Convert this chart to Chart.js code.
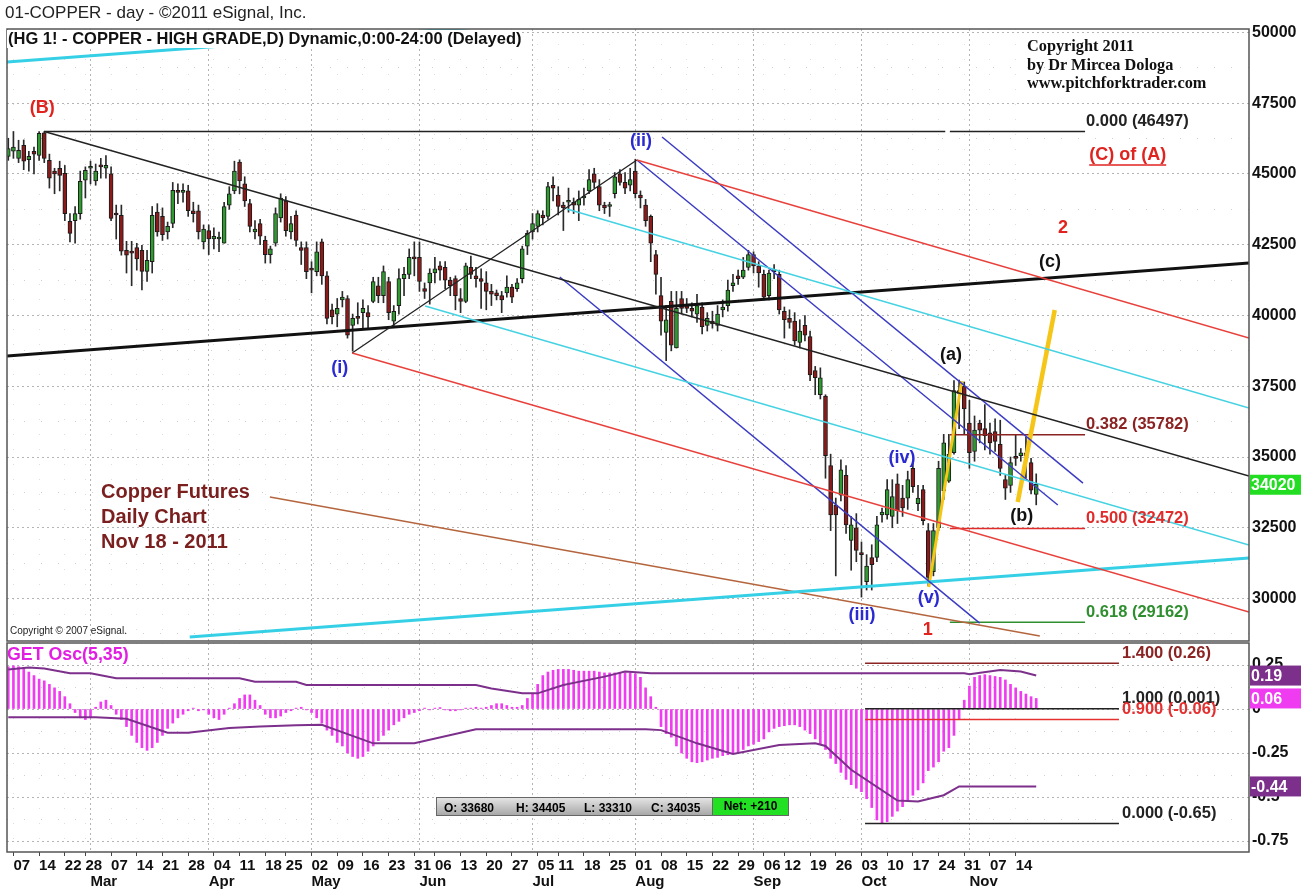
<!DOCTYPE html>
<html>
<head>
<meta charset="utf-8">
<script src="https://cdn.jsdelivr.net/npm/chart.js@4/dist/chart.umd.min.js"></script>
<style>
  body { margin: 0; background: #fff; }
  #page { position: relative; width: 1313px; height: 893px; overflow: hidden; font-family: 'Liberation Sans', Arial, sans-serif; }
  canvas { position: absolute; left: 0; }
  .txt { position: absolute; white-space: nowrap; line-height: 1; }
  #info { position: absolute; left: 436px; top: 797px; width: 352px; height: 19px; font: bold 12px 'Liberation Sans Narrow', 'Liberation Sans', sans-serif; }
  #info .ohlc { position: absolute; left: 0; top: 0; width: 275px; height: 17px; border: 1px solid #666; background: linear-gradient(#e4e4e4, #a8a8a8); }
  #info .ohlc span { position: absolute; top: 3px; }
  #info .net { position: absolute; left: 276px; top: 0; width: 75px; height: 17px; border: 1px solid #666; background: #22e022; text-align: center; line-height: 17px; }
</style>
</head>
<body>
<div id="page">
  <canvas id="priceChart" width="1313" height="642" style="top:0"></canvas>
  <canvas id="oscChart" width="1313" height="251" style="top:642px"></canvas>

  <div class="txt" style="left:5px;top:4px;font-size:17px;color:#222">01-COPPER - day - ©2011 eSignal, Inc.</div>
  <div class="txt" style="left:7px;top:30px;font-size:16.5px;font-weight:bold;color:#111;background:#fff;padding:0 1px 1px 1px">(HG 1! - COPPER - HIGH GRADE,D) Dynamic,0:00-24:00 (Delayed)</div>
  <div class="txt" style="left:1027px;top:37px;font:bold 16.3px 'Liberation Serif', serif;line-height:18.5px;color:#111">Copyright 2011<br>by Dr Mircea Dologa<br>www.pitchforktrader.com</div>
  <div class="txt" style="left:101px;top:479px;font-size:20px;font-weight:bold;line-height:25px;color:#7a1e1e">Copper Futures<br>Daily Chart<br>Nov 18 - 2011</div>
  <div class="txt" style="left:10px;top:626px;font-size:10px;color:#222">Copyright © 2007 eSignal.</div>
  <div class="txt" style="left:7px;top:646px;font-size:17.8px;font-weight:bold;color:#e21ee2">GET Osc(5,35)</div>
  <div id="info"></div>
</div>

<script>
// ---------- data ----------
const firstDate = '2011-02-04';
const lastDate = '2011-11-18';
const holidays = ['2011-02-21', '2011-04-22', '2011-05-30', '2011-07-04', '2011-09-05'];
const monthNames = ['Jan', 'Feb', 'Mar', 'Apr', 'May', 'Jun', 'Jul', 'Aug', 'Sep', 'Oct', 'Nov', 'Dec'];

const open = [
  45620, 45800, 45550, 46010, 45500, 45800, 45650, 46450, 45480, 45100,
  45200, 45020, 43330, 43350, 43600, 44780, 45200, 44750, 45300, 45200,
  45000, 43600, 43540, 42300, 42250, 42400, 42300, 41560, 41900, 43650,
  43500, 42950, 43250, 44400, 44350, 44400, 43700, 43700, 42600, 43000,
  42700, 42700, 42550, 43900, 44400, 45420, 44650, 43950, 42950, 43250,
  42650, 42150, 42550, 43450, 44050, 42950, 43550, 42400, 42400, 41650,
  41550, 42600, 41400, 40200, 40050, 40550, 40600, 39650, 39950, 40100,
  40100, 40500, 41050, 40700, 41200, 39800, 40350, 41300, 41450, 42050,
  42050, 40950, 41150, 41500, 41750, 41700, 41250, 41300, 40600, 40500,
  41700, 41400, 41300, 41150, 40850, 40800, 40700, 40800, 41000, 40950,
  41300, 42450, 42950, 43150, 43550, 43500, 44600, 44250, 43900, 44000,
  44000, 43900, 44150, 44400, 45000, 44550, 43900, 43850, 44300, 45000,
  44700, 44600, 45100, 44250, 43900, 43500, 42150, 40700, 39400, 40500,
  38850, 40600, 40350, 40250, 40050, 40300, 39650, 39800, 39650, 40200,
  40350, 41050, 41400, 41350, 41700, 42150, 41750, 41450, 40700, 41550,
  41450, 40150, 39900, 39800, 39050, 39650, 39250, 38050, 37200, 37150,
  34700, 33300, 33650, 34350, 32050, 32500, 31600, 30600, 31450, 31450,
  32950, 32950, 32900, 34050, 33550, 33550, 34600, 33350, 33850, 32400,
  30950, 32500, 33800, 34150, 35150, 37350, 37500, 36200, 35200, 36200,
  36000, 35850, 35900, 35450, 34200, 34000, 35000, 35050, 35150, 34800,
  33680
];
const high = [
  46260, 46500, 46190, 46200, 45800, 45950, 46500, 46497, 45700, 45200,
  45450, 45300, 43600, 43850, 45100, 45250, 45450, 45350, 45550, 45650,
  45250, 43900, 43900, 42620, 42620, 42550, 42480, 42300, 43850, 43950,
  43800, 43300, 44700, 44650, 44650, 44600, 44000, 43900, 43200, 43200,
  43100, 42950, 44000, 44550, 45450, 45500, 44900, 44100, 43350, 43400,
  42800, 42450, 43800, 44300, 44200, 43500, 43700, 42600, 42600, 41900,
  42600, 42700, 41550, 40400, 40600, 40850, 40700, 40050, 40450, 40550,
  40350, 41350, 41350, 41750, 41350, 40350, 41650, 41700, 42350, 42600,
  42600, 41150, 41650, 42050, 41900, 41900, 41350, 41400, 40950, 41850,
  42100, 41700, 41650, 41550, 41100, 40900, 40850, 41400, 41100, 41300,
  42450, 43000, 43600, 43700, 43700, 44700, 44900, 44550, 44000, 44500,
  44150, 44400, 44500, 45150, 45200, 44800, 44000, 44000, 45050, 45150,
  45050, 45200, 45520, 44400, 44100, 43550, 42300, 41350, 40350, 40850,
  40850, 40850, 40600, 40450, 40750, 40450, 40100, 40150, 40350, 40550,
  41250, 41450, 41600, 42050, 42300, 42250, 41900, 41600, 41600, 41800,
  41600, 40300, 40200, 40100, 39850, 40000, 39450, 38200, 38150, 37200,
  35100, 33550, 34900, 34700, 32900, 33000, 32000, 31550, 31900, 32900,
  33200, 34200, 34200, 34400, 34000, 34500, 34850, 34000, 34000, 32650,
  32650, 34850, 35800, 35800, 37700, 37720, 37650, 37000, 36450, 36300,
  36850, 36200, 36350, 36300, 34350, 35000, 35800, 35300, 35700, 34950,
  34405
];
const low = [
  45480, 45550, 45400, 45150, 45100, 45000, 45480, 45400, 44500, 44300,
  44400, 43350, 42600, 42550, 43400, 44150, 44650, 44600, 44850, 44850,
  43350, 42700, 42130, 41500, 41050, 41600, 40900, 41200, 41500, 42800,
  42650, 42700, 43100, 43950, 44000, 43500, 43300, 42700, 42350, 42150,
  42350, 42250, 42550, 43750, 44300, 44300, 43850, 42950, 42700, 42500,
  41850, 41850, 42450, 43300, 42800, 42700, 42450, 41800, 41300, 40800,
  41400, 41100, 39700, 39700, 39600, 40300, 39200, 38740, 39700, 39550,
  39550, 40450, 40450, 40450, 39850, 39600, 40050, 40700, 41300, 41400,
  40850, 40600, 40400, 41150, 41250, 40950, 40700, 40200, 40100, 40450,
  41300, 41000, 40250, 40200, 40350, 40550, 40100, 40650, 40450, 40850,
  41150, 42150, 42700, 42950, 43200, 43400, 44050, 43550, 43000, 43650,
  43600, 43350, 43900, 44300, 44500, 43700, 43600, 43500, 44150, 44600,
  44300, 44400, 44150, 43800, 43150, 41900, 40750, 39300, 38400, 38750,
  38850, 40050, 40100, 39950, 39750, 39350, 39450, 39550, 39450, 39950,
  40150, 40850, 41100, 41300, 41600, 41500, 41000, 40550, 40550, 41300,
  40050, 39200, 39550, 38950, 38850, 39100, 37700, 37200, 37050, 34250,
  32400, 30800, 33450, 32300, 31000, 31300, 30050, 30300, 30300, 31300,
  32700, 32800, 32500, 32650, 32900, 33150, 33750, 33100, 32600, 30450,
  30800, 32400, 33500, 34100, 35100, 36000, 35800, 34600, 34850, 35500,
  35250, 35100, 35200, 34350, 33500, 33750, 34700, 34850, 34250, 33700,
  33310
];
const close = [
  45900, 45950, 45830, 45450, 45620, 45700, 46430, 45550, 44850, 45000,
  44950, 43600, 42900, 43600, 44740, 45130, 45260, 45100, 45250, 45300,
  43430, 43550, 42270, 42130, 42200, 42000, 41560, 41950, 43540, 42950,
  42850, 43150, 44420, 44350, 44400, 43700, 43600, 42950, 43050, 42700,
  42800, 42750, 43850, 44300, 45100, 44750, 44050, 43150, 43050, 42800,
  42150, 42350, 43600, 44150, 43000, 43250, 42650, 42300, 41550, 41600,
  42250, 41400, 39900, 39950, 40250, 40650, 39300, 39900, 39900, 40250,
  39950, 41200, 40700, 41550, 40100, 40150, 41300, 41450, 42050, 42000,
  41200, 40850, 41500, 41650, 41600, 41250, 41050, 40700, 40500, 41750,
  41450, 41300, 41200, 40850, 40750, 40700, 40550, 41000, 40650, 41150,
  42350, 42900, 43250, 43600, 43450, 44550, 44500, 43850, 43800, 44050,
  43900, 44100, 44200, 44800, 44700, 43900, 43800, 43900, 44900, 44700,
  44500, 44800, 44300, 44150, 43350, 42550, 41450, 39800, 39850, 38950,
  40250, 40250, 40250, 40150, 40350, 39600, 39900, 39700, 40050, 40300,
  40900, 41150, 41300, 41600, 42150, 41750, 41500, 40650, 41500, 41600,
  40200, 39850, 39750, 39100, 39450, 39300, 37900, 37800, 37800, 35050,
  32950, 32950, 34550, 32600, 32600, 31700, 31550, 31150, 31200, 32600,
  33050, 33850, 33600, 33100, 33200, 34200, 33950, 33550, 32750, 30750,
  32400, 34600, 35500, 35100, 37350, 37250, 36700, 35150, 35950, 35950,
  35750, 35500, 35550, 34600, 33900, 34800, 34950, 35150, 35050, 33825,
  34035
];
const lastPrice = 34020;

const priceTicks = [30000, 32500, 35000, 37500, 40000, 42500, 45000, 47500, 50000];
const oscTicks = [0.25, 0, -0.25, -0.5, -0.75];

// GET oscillator histogram, one value per day
const getOsc = [
  0.24, 0.245, 0.24, 0.23, 0.21, 0.19, 0.17, 0.16, 0.14, 0.12,
  0.10, 0.07, 0.03, -0.02, -0.05, -0.06, -0.05, 0.01, 0.04, 0.05,
  0.02, -0.03, -0.06, -0.10, -0.15, -0.19, -0.22, -0.235, -0.22, -0.19,
  -0.15, -0.11, -0.08, -0.05, -0.03, -0.01, 0.005, -0.01, -0.005, -0.03,
  -0.05, -0.06, -0.03, 0.005, 0.03, 0.06, 0.08, 0.08, 0.05, 0.02,
  -0.03, -0.05, -0.05, -0.04, -0.02, -0.01, 0.005, 0.01, -0.005, -0.02,
  -0.05, -0.08, -0.12, -0.15, -0.19, -0.21, -0.25, -0.27, -0.28, -0.27,
  -0.24, -0.21, -0.18, -0.15, -0.12, -0.09, -0.07, -0.05, -0.03, -0.02,
  -0.01, 0.005, -0.005, 0.005, 0.008, -0.005, -0.01, -0.01, -0.005, 0.005,
  0.005, 0.01, 0.005, 0.01, 0.02, 0.03, 0.03, 0.02, 0.01, 0.01,
  0.02, 0.06, 0.09, 0.14, 0.19, 0.21, 0.22, 0.225, 0.225, 0.225,
  0.22, 0.215, 0.215, 0.215, 0.215, 0.21, 0.205, 0.205, 0.205, 0.205,
  0.205, 0.205, 0.2, 0.18, 0.12, 0.07, 0.01, -0.10, -0.14, -0.16,
  -0.21, -0.25, -0.28, -0.30, -0.305, -0.30, -0.29, -0.28, -0.275, -0.265,
  -0.26, -0.25, -0.245, -0.23, -0.21, -0.20, -0.185, -0.17, -0.13, -0.11,
  -0.10, -0.095, -0.09, -0.09, -0.10, -0.12, -0.14, -0.17, -0.20, -0.23,
  -0.28, -0.31, -0.36, -0.40, -0.43, -0.45, -0.47, -0.51, -0.56, -0.63,
  -0.65, -0.64, -0.61, -0.58, -0.555, -0.52, -0.49, -0.46, -0.42, -0.35,
  -0.33, -0.30, -0.24, -0.22, -0.15, -0.06, 0.05, 0.13, 0.18, 0.19,
  0.195, 0.19, 0.185, 0.18, 0.165, 0.14, 0.12, 0.10, 0.085, 0.07,
  0.06
];
// band lines: day index of each vertex and its value
const bandUpX = [0, 4, 7, 12, 16, 21, 45, 48, 56, 58, 91, 94, 100, 103, 108, 116, 120, 125, 186, 187, 193, 197, 200];
const bandUpY = [0.225, 0.236, 0.23, 0.203, 0.203, 0.175, 0.175, 0.155, 0.155, 0.136, 0.136, 0.117, 0.089, 0.089, 0.136, 0.184, 0.213, 0.203, 0.203, 0.198, 0.222, 0.213, 0.19];
const bandLoX = [0, 17, 23, 31, 35, 43, 49, 56, 61, 71, 79, 91, 124, 127, 134, 141, 150, 157, 159, 164, 173, 177, 182, 185, 200];
const bandLoY = [-0.047, -0.047, -0.055, -0.135, -0.135, -0.108, -0.10, -0.092, -0.09, -0.195, -0.195, -0.115, -0.115, -0.12, -0.195, -0.255, -0.205, -0.195, -0.21, -0.345, -0.52, -0.525, -0.49, -0.44, -0.44];

const fibLevels = ['0.000', '0.382', '0.500', '0.618'];
const fibPrices = [46497, 35782, 32472, 29162];
const oscFibLevels = ['1.400', '1.000', '0.900', '0.000'];
const oscFibValues = [0.26, 0.001, -0.06, -0.65];

// ---------- calendar ----------
const dates = [];
for (let d = new Date(firstDate + 'T12:00:00'); d <= new Date(lastDate + 'T12:00:00'); d.setDate(d.getDate() + 1)) {
  const iso = d.getFullYear() + '-' + String(d.getMonth() + 1).padStart(2, '0') + '-' + String(d.getDate()).padStart(2, '0');
  if (d.getDay() === 0 || d.getDay() === 6 || holidays.includes(iso)) continue;
  dates.push(new Date(d));
}
const days = close.map((c, i) => i);
const weekStarts = days.filter(i => i > 0 && dates[i].getDay() < dates[i - 1].getDay());
const monthStarts = days.filter(i => i > 0 && dates[i].getMonth() !== dates[i - 1].getMonth());

const X_MIN = -0.25, X_MAX = 241.4;

// drawn lines, [day, price] ends
const trendLines = [
  { from: [7, 46497], to: [182.3, 46497], color: '#222', width: 1.5 },
  { from: [7, 46497], to: [X_MAX, 34327], color: '#222', width: 1.5 },
  { from: [122.3, 45492], to: [X_MAX, 39203], color: '#e8413c', width: 1.5 },
  { from: [66.9, 38673], to: [X_MAX, 29523], color: '#e8413c', width: 1.5 },
  { from: [108.7, 43761], to: [X_MAX, 36730], color: '#45d2e2', width: 1.6 },
  { from: [81.1, 40334], to: [X_MAX, 31890], color: '#45d2e2', width: 1.6 },
  { from: [66.9, 38673], to: [122.3, 45492], color: '#222', width: 1.3 },
  { from: [127.2, 46304], to: [209.1, 34080], color: '#3b3bc4', width: 1.5 },
  { from: [122.3, 45492], to: [204.2, 33303], color: '#3b3bc4', width: 1.5 },
  { from: [107.3, 41358], to: [189.0, 29134], color: '#3b3bc4', width: 1.5 },
  { from: [35.3, 28639], to: [X_MAX, 31430], color: '#35d0e6', width: 3 },
  { from: [X_MIN, 48950], to: [95, 50240], color: '#35d0e6', width: 3 },
  { from: [X_MIN, 38567], to: [X_MAX, 41853], color: '#111', width: 3 },
  { from: [50.9, 33586], to: [200.7, 28675], color: '#b5653e', width: 1.5 },
  { from: [179.1, 30406], to: [185.5, 37684], color: '#f5c518', width: 3 },
  { from: [196.4, 33409], to: [203.6, 40192], color: '#f5c518', width: 4.5 }
];
const fibColors = ['#222', '#8b2323', '#e02b2b', '#2f8f2f'];
const oscFibColors = ['#8b2323', '#222', '#e53030', '#222'];

const RED = '#e0231f', BLUE = '#2a2ad0', BLACK = '#111';
const waveNotes = [
  { text: '(B)', x: 6.6, y: 47329, color: RED },
  { text: '(i)', x: 64.5, y: 38143, color: BLUE },
  { text: '(ii)', x: 123.1, y: 46163, color: BLUE },
  { text: '(iii)', x: 166.1, y: 29417, color: BLUE },
  { text: '(iv)', x: 173.9, y: 34963, color: BLUE },
  { text: '(v)', x: 179.1, y: 30017, color: BLUE },
  { text: '(a)', x: 183.4, y: 38602, color: BLACK },
  { text: '(b)', x: 197.2, y: 32914, color: BLACK },
  { text: '(c)', x: 202.7, y: 41888, color: BLACK },
  { text: '1', x: 178.9, y: 28887, color: RED },
  { text: '2', x: 205.2, y: 43089, color: RED },
  { text: '(C) of (A)', x: 217.8, y: 45668, color: RED, underline: true }
];

// ---------- helpers ----------
const NARROW = "'Liberation Sans Narrow', 'Liberation Sans', Arial, sans-serif";
const LABEL_FONT = "bold 16.5px 'Liberation Sans', Arial, sans-serif";
Chart.defaults.font.family = "'Liberation Sans', Arial, sans-serif";

function seg(a, b, color, width) {
  return {
    type: 'line', data: [{ x: a[0], y: a[1] }, { x: b[0], y: b[1] }],
    borderColor: color, borderWidth: width, pointRadius: 0, fill: false,
    tension: 0, order: 1, xAxisID: 'x', yAxisID: 'y'
  };
}

function noPad(s) { s.paddingTop = 0; s.paddingBottom = 0; s.paddingLeft = 0; s.paddingRight = 0; }

function xAxes(show) {
  return {
    x: {
      type: 'linear', position: 'bottom', min: X_MIN, max: X_MAX, offset: false, weight: 0,
      afterBuildTicks: s => { s.ticks = weekStarts.map(v => ({ value: v })); },
      afterFit: s => { s.height = show ? 20 : 0; noPad(s); },
      ticks: {
        display: show, autoSkip: false, maxRotation: 0, minRotation: 0, align: 'start', padding: 1,
        color: '#111', font: { family: NARROW, size: 15, weight: 'bold' },
        callback: v => String(dates[v].getDate()).padStart(2, '0')
      },
      grid: { offset: false, color: 'rgba(160,160,160,0.35)', drawTicks: show, tickLength: 4, tickColor: '#444' },
      border: { display: false, dash: [1, 14] }
    },
    xm: {
      type: 'linear', axis: 'x', position: 'bottom', min: X_MIN, max: X_MAX, offset: false, weight: 1,
      afterBuildTicks: s => { s.ticks = monthStarts.map(v => ({ value: v })); },
      afterFit: s => { s.height = show ? 21 : 0; noPad(s); },
      ticks: {
        display: show, autoSkip: false, maxRotation: 0, minRotation: 0, align: 'start', padding: 1,
        color: '#111', font: { family: NARROW, size: 15, weight: 'bold' },
        callback: v => monthNames[dates[v].getMonth()]
      },
      grid: { offset: false, color: '#b4b4b4', drawTicks: false },
      border: { display: false, dash: [2, 3] }
    }
  };
}

const framePlugin = {
  id: 'frame',
  afterDraw(chart) {
    const { ctx, chartArea: a } = chart;
    ctx.save();
    ctx.strokeStyle = '#555';
    ctx.lineWidth = 1.5;
    ctx.strokeRect(a.left, a.top, a.right - a.left, a.bottom - a.top);
    ctx.restore();
  }
};

function notesPlugin(items) {
  return {
    id: 'notes',
    afterDatasetsDraw(chart) {
      const { ctx, scales } = chart;
      ctx.save();
      for (const n of items) {
        const x = scales.x.getPixelForValue(n.x) + (n.dx || 0);
        const y = scales.y.getPixelForValue(n.y) + (n.dy || 0);
        ctx.font = n.font || "bold 18px 'Liberation Sans', Arial, sans-serif";
        ctx.fillStyle = n.color;
        ctx.textAlign = n.align || 'center';
        ctx.textBaseline = n.base || 'middle';
        ctx.fillText(n.text, x, y);
        if (n.underline) {
          const w = ctx.measureText(n.text).width;
          ctx.strokeStyle = n.color;
          ctx.lineWidth = 1.5;
          ctx.beginPath();
          ctx.moveTo(x - w / 2, y + 10);
          ctx.lineTo(x + w / 2, y + 10);
          ctx.stroke();
        }
      }
      ctx.restore();
    }
  };
}

function badgePlugin(items) {
  return {
    id: 'badges',
    afterDraw(chart) {
      const { ctx, scales, chartArea } = chart;
      ctx.save();
      for (const b of items) {
        const y = scales.y.getPixelForValue(b.value);
        ctx.fillStyle = b.bg;
        ctx.fillRect(chartArea.right + 1, y - 10, 51, 20);
        ctx.fillStyle = '#fff';
        ctx.font = "bold 16px " + NARROW;
        ctx.textAlign = 'left';
        ctx.textBaseline = 'middle';
        ctx.fillText(b.text, chartArea.right + 2, y + 1);
      }
      ctx.restore();
    }
  };
}

// ---------- price chart ----------
const fibNotes = fibLevels.map((lv, k) => ({
  text: lv + ' (' + fibPrices[k] + ')', x: 209.5, y: fibPrices[k], dx: 1, dy: -2,
  color: fibColors[k], align: 'left', base: 'bottom', font: LABEL_FONT
}));

const priceDatasets = [
  {
    type: 'bar', data: days.map(i => ({ x: i, y: [low[i], high[i]] })),
    backgroundColor: '#2a2a2a', barThickness: 1, grouped: false, order: 6, xAxisID: 'x', yAxisID: 'y'
  },
  {
    type: 'bar', data: days.map(i => ({ x: i, y: [open[i], close[i]] })),
    backgroundColor: days.map(i => close[i] >= open[i] ? '#2f9a2f' : '#8b1a1a'),
    borderColor: '#1a1a1a', borderWidth: 1, borderSkipped: false, minBarLength: 2,
    barThickness: 4, grouped: false, order: 5, xAxisID: 'x', yAxisID: 'y'
  },
  ...trendLines.map(l => seg(l.from, l.to, l.color, l.width)),
  ...fibPrices.map((p, k) => seg([183.2, p], [209.5, p], fibColors[k], 1.5))
];

const yMinor = priceTicks.map(v => v - 1250).filter(v => v > 28500);
new Chart(document.getElementById('priceChart'), {
  type: 'bar',
  data: { datasets: priceDatasets },
  options: {
    responsive: false, devicePixelRatio: 1, animation: false, events: [],
    layout: { padding: { left: 7, right: 0, top: 29, bottom: 1 } },
    plugins: { legend: { display: false }, tooltip: { enabled: false } },
    scales: {
      ...xAxes(false),
      y: {
        type: 'linear', position: 'right', min: 28500, max: 50120,
        afterBuildTicks: s => { s.ticks = [...priceTicks, ...yMinor].sort((a, b) => a - b).map(v => ({ value: v })); },
        afterFit: s => { s.width = 64; noPad(s); },
        ticks: {
          padding: 3, color: '#111', font: { size: 16, weight: 'bold' },
          callback: v => priceTicks.includes(v) ? String(v) : ''
        },
        grid: { drawTicks: false, color: c => (c.tick && priceTicks.includes(c.tick.value)) ? '#b4b4b4' : 'rgba(170,170,170,0.55)' },
        border: { display: false, dash: c => (c.tick && priceTicks.includes(c.tick.value)) ? [2, 3] : [1, 16] }
      }
    }
  },
  plugins: [framePlugin, notesPlugin([...waveNotes, ...fibNotes]),
    badgePlugin([{ value: lastPrice, text: String(lastPrice), bg: '#22dd22' }])]
});

// ---------- oscillator chart ----------
const oscFibNotes = oscFibLevels.map((lv, k) => ({
  text: lv + ' (' + oscFibValues[k] + ')', x: 216.1, y: oscFibValues[k], dx: 3, dy: -2,
  color: oscFibColors[k], align: 'left', base: 'bottom', font: LABEL_FONT
}));
const last = close.length - 1;

new Chart(document.getElementById('oscChart'), {
  type: 'bar',
  data: {
    datasets: [
      {
        type: 'bar', data: days.map(i => ({ x: i, y: getOsc[i] })),
        backgroundColor: '#f03cf0', barThickness: 2, grouped: false, order: 5, xAxisID: 'x', yAxisID: 'y'
      },
      {
        type: 'line', data: bandUpX.map((v, k) => ({ x: v, y: bandUpY[k] })),
        borderColor: '#7d2f8c', borderWidth: 2, pointRadius: 0, tension: 0, order: 2, xAxisID: 'x', yAxisID: 'y'
      },
      {
        type: 'line', data: bandLoX.map((v, k) => ({ x: v, y: bandLoY[k] })),
        borderColor: '#7d2f8c', borderWidth: 2, pointRadius: 0, tension: 0, order: 2, xAxisID: 'x', yAxisID: 'y'
      },
      ...oscFibValues.map((v, k) => seg([166.7, v], [216.1, v], oscFibColors[k], 1.5))
    ]
  },
  options: {
    responsive: false, devicePixelRatio: 1, animation: false, events: [],
    layout: { padding: { left: 7, right: 0, top: 1, bottom: 0 } },
    plugins: { legend: { display: false }, tooltip: { enabled: false } },
    scales: {
      ...xAxes(true),
      y: {
        type: 'linear', position: 'right', min: -0.8125, max: 0.375,
        afterBuildTicks: s => { s.ticks = [...oscTicks, 0.125, -0.125, -0.375, -0.625].sort((a, b) => a - b).map(v => ({ value: v })); },
        afterFit: s => { s.width = 64; noPad(s); },
        ticks: {
          padding: 3, color: '#111', font: { size: 16, weight: 'bold' },
          callback: v => oscTicks.includes(v) ? String(v) : ''
        },
        grid: { drawTicks: false, color: c => (c.tick && oscTicks.includes(c.tick.value)) ? '#b4b4b4' : 'rgba(170,170,170,0.55)' },
        border: { display: false, dash: c => (c.tick && oscTicks.includes(c.tick.value)) ? [2, 3] : [1, 16] }
      }
    }
  },
  plugins: [framePlugin, notesPlugin(oscFibNotes), badgePlugin([
    { value: bandUpY[bandUpY.length - 1], text: bandUpY[bandUpY.length - 1].toFixed(2), bg: '#7d2f8c' },
    { value: getOsc[last], text: getOsc[last].toFixed(2), bg: '#f03cf0' },
    { value: bandLoY[bandLoY.length - 1], text: bandLoY[bandLoY.length - 1].toFixed(2), bg: '#7d2f8c' }
  ])]
});

// ---------- info box ----------
const net = close[last] - close[last - 1];
document.getElementById('info').innerHTML =
  '<div class="ohlc"><span style="left:7px">O: ' + open[last] + '</span>' +
  '<span style="left:79px">H: ' + high[last] + '</span>' +
  '<span style="left:147px">L: ' + low[last] + '</span>' +
  '<span style="left:214px">C: ' + close[last] + '</span></div>' +
  '<div class="net">Net: ' + (net >= 0 ? '+' : '') + net + '</div>';
</script>
</body>
</html>
